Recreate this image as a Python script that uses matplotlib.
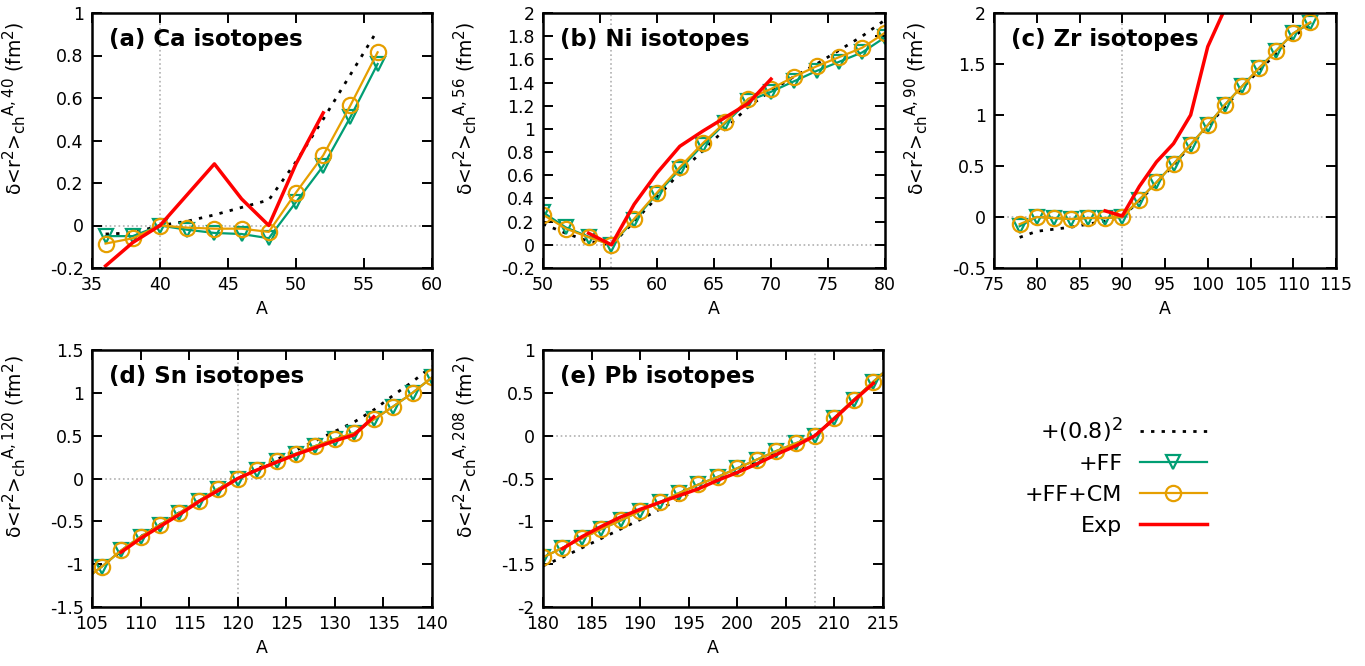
import numpy as np
import matplotlib
matplotlib.use('Agg')
import matplotlib.pyplot as plt
import matplotlib._mathtext as mtext
from matplotlib.lines import Line2D
from matplotlib.ticker import FuncFormatter

plt.rcParams['font.family'] = 'DejaVu Sans'
plt.rcParams['axes.unicode_minus'] = False
# gnuplot-like bigger sub/superscripts
mtext.SHRINK_FACTOR = 0.8

# ---- data ----
# (a) Ca
ca_A = [36, 38, 40, 42, 44, 46, 48, 50, 52, 54, 56]
ca_r08 = [-0.04, -0.035, 0.0, 0.02, 0.05, 0.085, 0.12, 0.30, 0.50, 0.71, 0.92]
ca_ff = [-0.05, -0.05, 0.0, -0.02, -0.035, -0.04, -0.06, 0.11, 0.28, 0.51, 0.76]
ca_ffcm = [-0.085, -0.06, 0.0, -0.01, -0.015, -0.015, -0.03, 0.155, 0.33, 0.565, 0.815]
ca_exp_A = [36, 38, 40, 42, 44, 46, 48, 50, 52]
ca_exp = [-0.19, -0.08, 0.0, 0.145, 0.29, 0.125, 0.0, 0.29, 0.53]

# (b) Ni
ni_A = [50, 52, 54, 56, 58, 60, 62, 64, 66, 68, 70, 72, 74, 76, 78, 80]
ni_r08 = [0.18, 0.10, 0.03, 0.0, 0.20, 0.41, 0.62, 0.81, 1.00, 1.19, 1.33, 1.45, 1.56, 1.68, 1.80, 1.94]
ni_ff = [0.28, 0.15, 0.07, 0.0, 0.215, 0.44, 0.65, 0.86, 1.05, 1.24, 1.32, 1.41, 1.50, 1.58, 1.66, 1.79]
ni_ffcm = [0.26, 0.14, 0.065, 0.0, 0.225, 0.45, 0.67, 0.875, 1.06, 1.26, 1.345, 1.45, 1.54, 1.62, 1.70, 1.83]
ni_exp_A = [54, 56, 58, 60, 62, 64, 66, 68, 70]
ni_exp = [0.10, 0.0, 0.35, 0.62, 0.85, 0.98, 1.10, 1.22, 1.43]

# (c) Zr
zr_A = [78, 80, 82, 84, 86, 88, 90, 92, 94, 96, 98, 100, 102, 104, 106, 108, 110, 112]
zr_r08 = [-0.20, -0.14, -0.12, -0.10, -0.07, -0.04, 0.0, 0.16, 0.33, 0.51, 0.70, 0.89, 1.08, 1.26, 1.44, 1.60, 1.77, 1.88]
zr_ff = [-0.09, 0.0, -0.01, -0.02, -0.01, -0.01, 0.0, 0.17, 0.34, 0.52, 0.71, 0.90, 1.10, 1.28, 1.46, 1.63, 1.80, 1.90]
zr_ffcm = [-0.07, 0.0, -0.01, -0.02, -0.01, -0.01, 0.0, 0.17, 0.34, 0.52, 0.71, 0.90, 1.10, 1.28, 1.46, 1.63, 1.80, 1.91]
zr_exp_A = [88, 90, 92, 94, 96, 98, 100, 102]
zr_exp = [0.06, 0.01, 0.30, 0.54, 0.72, 1.00, 1.67, 2.04]

# (d) Sn
sn_A = [104, 106, 108, 110, 112, 114, 116, 118, 120, 122, 124, 126, 128, 130, 132, 134, 136, 138, 140]
sn_r08 = [-1.20, -1.02, -0.85, -0.68, -0.54, -0.40, -0.26, -0.12, 0.0, 0.11, 0.22, 0.33, 0.44, 0.55, 0.66, 0.80, 0.97, 1.13, 1.31]
sn_ff = [-1.20, -1.03, -0.84, -0.68, -0.54, -0.40, -0.26, -0.12, 0.0, 0.10, 0.20, 0.29, 0.38, 0.46, 0.53, 0.69, 0.84, 1.00, 1.18]
sn_ffcm = [-1.20, -1.03, -0.84, -0.68, -0.54, -0.40, -0.26, -0.12, 0.0, 0.10, 0.20, 0.29, 0.38, 0.46, 0.53, 0.69, 0.84, 1.00, 1.18]
sn_exp_A = [108, 110, 112, 114, 116, 118, 120, 122, 124, 126, 128, 130, 132, 134]
sn_exp = [-0.86, -0.70, -0.56, -0.42, -0.27, -0.14, 0.0, 0.10, 0.19, 0.28, 0.36, 0.44, 0.51, 0.72]

# (e) Pb
pb_A = [180, 182, 184, 186, 188, 190, 192, 194, 196, 198, 200, 202, 204, 206, 208, 210, 212, 214, 216]
pb_r08 = [-1.52, -1.42, -1.31, -1.20, -1.09, -0.98, -0.86, -0.74, -0.62, -0.52, -0.42, -0.31, -0.20, -0.10, 0.0, 0.20, 0.41, 0.62, 0.83]
pb_ff = [-1.42, -1.31, -1.20, -1.09, -0.99, -0.88, -0.78, -0.67, -0.57, -0.48, -0.38, -0.28, -0.18, -0.09, 0.0, 0.21, 0.42, 0.63, 0.83]
pb_ffcm = [-1.42, -1.31, -1.20, -1.09, -0.99, -0.88, -0.78, -0.67, -0.57, -0.48, -0.38, -0.28, -0.18, -0.09, 0.0, 0.21, 0.42, 0.63, 0.83]
pb_exp_A = [182, 184, 186, 188, 190, 192, 194, 196, 198, 200, 202, 204, 206, 208, 210, 212, 214]
pb_exp = [-1.32, -1.18, -1.06, -0.95, -0.86, -0.78, -0.70, -0.62, -0.52, -0.43, -0.33, -0.22, -0.12, 0.0, 0.20, 0.41, 0.61]

panels = [
    ('(a) Ca isotopes', 40, ca_A, ca_r08, ca_ff, ca_ffcm, ca_exp_A, ca_exp, (35, 60), (-0.2, 1.0), np.arange(-0.2, 1.01, 0.2)),
    ('(b) Ni isotopes', 56, ni_A, ni_r08, ni_ff, ni_ffcm, ni_exp_A, ni_exp, (50, 80), (-0.2, 2.0), np.arange(-0.2, 2.01, 0.2)),
    ('(c) Zr isotopes', 90, zr_A, zr_r08, zr_ff, zr_ffcm, zr_exp_A, zr_exp, (75, 115), (-0.5, 2.0), np.arange(-0.5, 2.01, 0.5)),
    ('(d) Sn isotopes', 120, sn_A, sn_r08, sn_ff, sn_ffcm, sn_exp_A, sn_exp, (105, 140), (-1.5, 1.5), np.arange(-1.5, 1.51, 0.5)),
    ('(e) Pb isotopes', 208, pb_A, pb_r08, pb_ff, pb_ffcm, pb_exp_A, pb_exp, (180, 215), (-2.0, 1.0), np.arange(-2.0, 1.01, 0.5)),
]

W, H = 1365, 666
boxes = [(92, 13, 340, 255), (543, 13, 342, 255), (994, 13, 342, 255),
         (92, 350, 340, 257), (543, 350, 340, 257)]

green = '#009e73'
orange = '#e69f00'
red = '#ff0000'
dots = (0, (1.2, 2.6))

fig = plt.figure(figsize=(W / 100, H / 100), dpi=100)

fmt = FuncFormatter(lambda v, p: '%g' % round(v, 6))

for (title, ref, A, r08, ff, ffcm, eA, ex, xl, yl, yt), (x0, y0, w, h) in zip(panels, boxes):
    ax = fig.add_axes([x0 / W, 1 - (y0 + h) / H, w / W, h / H])
    ax.axvline(ref, color='#b0b0b0', ls=':', lw=1.2, zorder=0)
    ax.axhline(0, color='#b0b0b0', ls=':', lw=1.2, zorder=0)
    ax.plot(A, r08, color='black', ls=dots, lw=2)
    ax.plot(A, ff, color=green, lw=1.6, marker='v', ms=10, mfc='none', mec=green, mew=1.6)
    ax.plot(A, ffcm, color=orange, lw=1.6, marker='o', ms=11, mfc='none', mec=orange, mew=1.6)
    ax.plot(eA, ex, color=red, lw=2.5)
    ax.set_xlim(*xl)
    ax.set_ylim(*yl)
    ax.set_xticks(np.arange(xl[0], xl[1] + 0.1, 5))
    ax.set_yticks(yt)
    ax.xaxis.set_major_formatter(fmt)
    ax.yaxis.set_major_formatter(fmt)
    ax.tick_params(direction='in', top=True, right=True, length=7, width=1.4, labelsize=12.5, pad=6)
    for s in ax.spines.values():
        s.set_linewidth(1.8)
    ax.text(0.05, 0.94, title, transform=ax.transAxes, fontsize=16.5, fontweight='bold', va='top', ha='left')
    ax.set_xlabel('A', fontsize=12.5)
    ax.set_ylabel(r'δ<r$^{2}$>$_{\rm ch}$$^{\rm A,%d}$ (fm$^{2}$)' % ref, fontsize=13.5)
    ax.yaxis.set_label_coords(-64 / w, 0.625)

handles = [
    Line2D([], [], color='black', ls=dots, lw=2),
    Line2D([], [], color=green, lw=1.6, marker='v', ms=10, mfc='none', mec=green, mew=1.6),
    Line2D([], [], color=orange, lw=1.6, marker='o', ms=11, mfc='none', mec=orange, mew=1.6),
    Line2D([], [], color=red, lw=2.5),
]
labels = [r'+(0.8)$^2$', '+FF', '+FF+CM', 'Exp']
fig.legend(handles, labels, loc='upper left', bbox_to_anchor=(1005 / W, 1 - 395 / H),
           frameon=False, markerfirst=False, fontsize=16, handlelength=3.0,
           labelspacing=0.48, handletextpad=0.8)

fig.savefig('out.png', dpi=100)
